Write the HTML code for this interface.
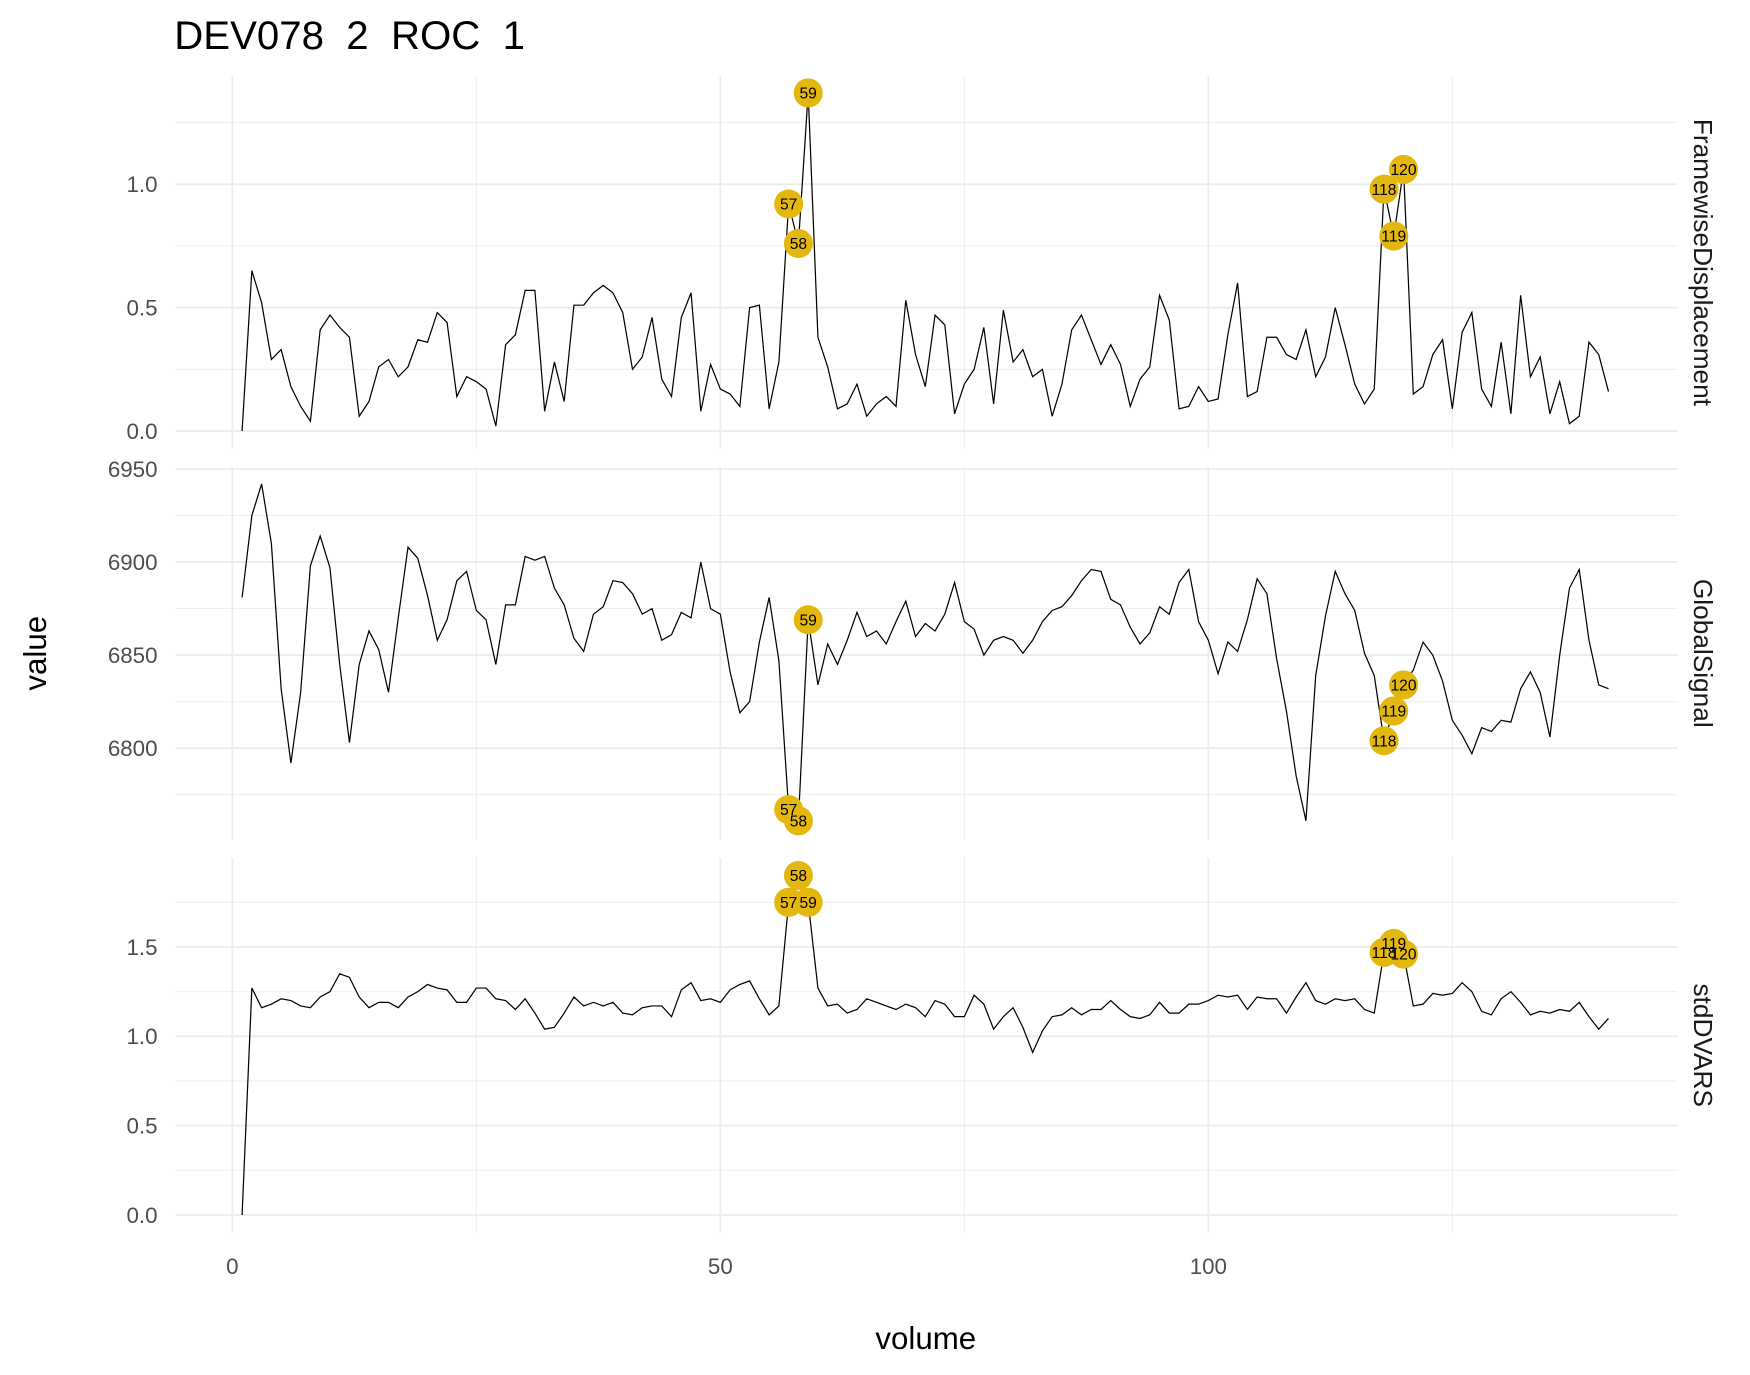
<!DOCTYPE html>
<html><head><meta charset="utf-8"><style>
html,body{margin:0;padding:0;background:#fff;}
svg{display:block;font-family:"Liberation Sans",sans-serif;}
text{white-space:pre;}
</style></head><body>
<svg id="chart" width="1750" height="1375" viewBox="0 0 1567 1231.3" xmlns="http://www.w3.org/2000/svg">
<rect width="1567" height="1232" fill="#fff"/>
<text x="156" y="44" font-size="36" fill="#000" xml:space="preserve">DEV078  2  ROC  1</text>
<text transform="translate(41,585) rotate(-90)" text-anchor="middle" font-size="28" fill="#000">value</text>
<text x="829" y="1208" text-anchor="middle" font-size="28" fill="#000">volume</text>
<g id="grid"></g><g id="lines"></g><g id="pts"></g><g id="lbls"></g><g id="axes"></g>
</svg>
<script>
const volumes = Array.from({length:141},(_, i)=>i+1);
const fdValues = [0.0,0.65,0.52,0.29,0.33,0.18,0.10,0.04,0.41,0.47,0.42,0.38,0.06,0.12,0.26,0.29,0.22,0.26,0.37,0.36,0.48,0.44,0.14,0.22,0.20,0.17,0.02,0.35,0.39,0.57,0.57,0.08,0.28,0.12,0.51,0.51,0.56,0.59,0.56,0.48,0.25,0.30,0.46,0.21,0.14,0.46,0.56,0.08,0.27,0.17,0.15,0.10,0.50,0.51,0.09,0.28,0.92,0.76,1.37,0.38,0.26,0.09,0.11,0.19,0.06,0.11,0.14,0.10,0.53,0.31,0.18,0.47,0.43,0.07,0.19,0.25,0.42,0.11,0.49,0.28,0.33,0.22,0.25,0.06,0.19,0.41,0.47,0.37,0.27,0.35,0.27,0.10,0.21,0.26,0.55,0.45,0.09,0.10,0.18,0.12,0.13,0.39,0.60,0.14,0.16,0.38,0.38,0.31,0.29,0.41,0.22,0.30,0.50,0.35,0.19,0.11,0.17,0.98,0.79,1.06,0.15,0.18,0.31,0.37,0.09,0.40,0.48,0.17,0.10,0.36,0.07,0.55,0.22,0.30,0.07,0.20,0.03,0.06,0.36,0.31,0.16];
const gsValues = [6881,6925,6942,6910,6832,6792,6830,6898,6914,6897,6845,6803,6845,6863,6853,6830,6870,6908,6902,6882,6858,6869,6890,6895,6874,6869,6845,6877,6877,6903,6901,6903,6886,6877,6859,6852,6872,6876,6890,6889,6883,6872,6875,6858,6861,6873,6870,6900,6875,6872,6841,6819,6825,6857,6881,6847,6767,6761,6869,6834,6856,6845,6858,6873,6860,6863,6856,6868,6879,6860,6867,6863,6872,6889,6868,6864,6850,6858,6860,6858,6851,6858,6868,6874,6876,6882,6890,6896,6895,6880,6877,6865,6856,6862,6876,6872,6889,6896,6868,6858,6840,6857,6852,6869,6891,6883,6848,6820,6785,6761,6839,6871,6895,6883,6874,6851,6839,6804,6820,6834,6842,6857,6850,6836,6815,6807,6797,6811,6809,6815,6814,6832,6841,6830,6806,6850,6886,6896,6858,6834,6832];
const dvValues = [0.0,1.27,1.16,1.18,1.21,1.20,1.17,1.16,1.22,1.25,1.35,1.33,1.22,1.16,1.19,1.19,1.16,1.22,1.25,1.29,1.27,1.26,1.19,1.19,1.27,1.27,1.21,1.20,1.15,1.21,1.13,1.04,1.05,1.13,1.22,1.17,1.19,1.17,1.19,1.13,1.12,1.16,1.17,1.17,1.11,1.26,1.30,1.20,1.21,1.19,1.26,1.29,1.31,1.21,1.12,1.17,1.75,1.90,1.75,1.27,1.17,1.18,1.13,1.15,1.21,1.19,1.17,1.15,1.18,1.16,1.11,1.20,1.18,1.11,1.11,1.23,1.18,1.04,1.11,1.16,1.05,0.91,1.03,1.11,1.12,1.16,1.12,1.15,1.15,1.20,1.15,1.11,1.10,1.12,1.19,1.13,1.13,1.18,1.18,1.20,1.23,1.22,1.23,1.15,1.22,1.21,1.21,1.13,1.22,1.30,1.20,1.18,1.21,1.20,1.21,1.15,1.13,1.47,1.52,1.46,1.17,1.18,1.24,1.23,1.24,1.30,1.25,1.14,1.12,1.21,1.25,1.19,1.12,1.14,1.13,1.15,1.14,1.19,1.11,1.04,1.10];
const flagged = [57,58,59,118,119,120];
const xTicks = [0,50,100];
const xMinor = [25,75,125];

const NS="http://www.w3.org/2000/svg";
function mk(tag,attrs,parent){const e=document.createElementNS(NS,tag);for(const k in attrs)e.setAttribute(k,attrs[k]);parent.appendChild(e);return e;}
const X0=157,X1=1502;
function xs(v){return 208+(v-0)*(1082-208)/100;}
const panels=[
 {name:'framewise-displacement',strip:'FramewiseDisplacement',vals:fdValues,top:68,bot:402,y0:0,py0:386,y1:1,py1:165,ticks:[0,0.5,1.0],minor:[0.25,0.75,1.25],fmt:v=>v.toFixed(1)},
 {name:'global-signal',strip:'GlobalSignal',vals:gsValues,top:418,bot:752,y0:6800,py0:670,y1:6950,py1:420,ticks:[6800,6850,6900,6950],minor:[6775,6825,6875,6925],fmt:v=>String(v)},
 {name:'std-dvars',strip:'stdDVARS',vals:dvValues,top:768,bot:1104,y0:0,py0:1088,y1:1,py1:928,ticks:[0,0.5,1.0,1.5],minor:[0.25,0.75,1.25,1.75],fmt:v=>v.toFixed(1)}
];
const grid=document.getElementById('grid'),lines=document.getElementById('lines'),pts=document.getElementById('pts'),lbls=document.getElementById('lbls'),axes=document.getElementById('axes');
panels.forEach(p=>{
 const ys=v=>p.py0+(v-p.y0)*(p.py1-p.py0)/(p.y1-p.y0);
 p.minor.forEach(t=>{const l=mk('line',{x1:X0,x2:X1,y1:ys(t),y2:ys(t),stroke:'#ebebeb','stroke-width':0.8},grid);
  });
 xMinor.forEach(t=>{const l=mk('line',{x1:xs(t),x2:xs(t),y1:p.top,y2:p.bot,stroke:'#ebebeb','stroke-width':0.8},grid);
  });
 p.ticks.forEach(t=>{const l=mk('line',{x1:X0,x2:X1,y1:ys(t),y2:ys(t),stroke:'#ebebeb','stroke-width':1.6},grid);
  
  const tx=mk('text',{x:141,y:ys(t)+7,'text-anchor':'end','font-size':20,fill:'#4d4d4d'},axes);tx.textContent=p.fmt(t);
  });
 xTicks.forEach(t=>{const l=mk('line',{x1:xs(t),x2:xs(t),y1:p.top,y2:p.bot,stroke:'#ebebeb','stroke-width':1.6},grid);
  });
 const d=p.vals.map((v,i)=>(i?'L':'M')+xs(volumes[i]).toFixed(2)+','+ys(v).toFixed(2)).join('');
 const path=mk('path',{d:d,fill:'none',stroke:'#000','stroke-width':1.1},lines);
 
 flagged.forEach(f=>{const i=volumes.indexOf(f);const cx=xs(f),cy=ys(p.vals[i]);
  const c=mk('circle',{cx:cx,cy:cy,r:13,fill:'#E3B70D'},pts);
  
  const t=mk('text',{x:cx,y:cy+5,'text-anchor':'middle','font-size':14,fill:'#000'},lbls);t.textContent=String(f);
  });
 const sy=(p.top+p.bot)/2;
 const st=mk('text',{transform:'translate(1517,'+sy+') rotate(90)','text-anchor':'middle','font-size':23.5,fill:'#1a1a1a'},axes);st.textContent=p.strip;
 
});
xTicks.forEach(t=>{const tx=mk('text',{x:xs(t),y:1141,'text-anchor':'middle','font-size':20,fill:'#4d4d4d'},axes);tx.textContent=String(t);
 });
</script>
</body></html>
